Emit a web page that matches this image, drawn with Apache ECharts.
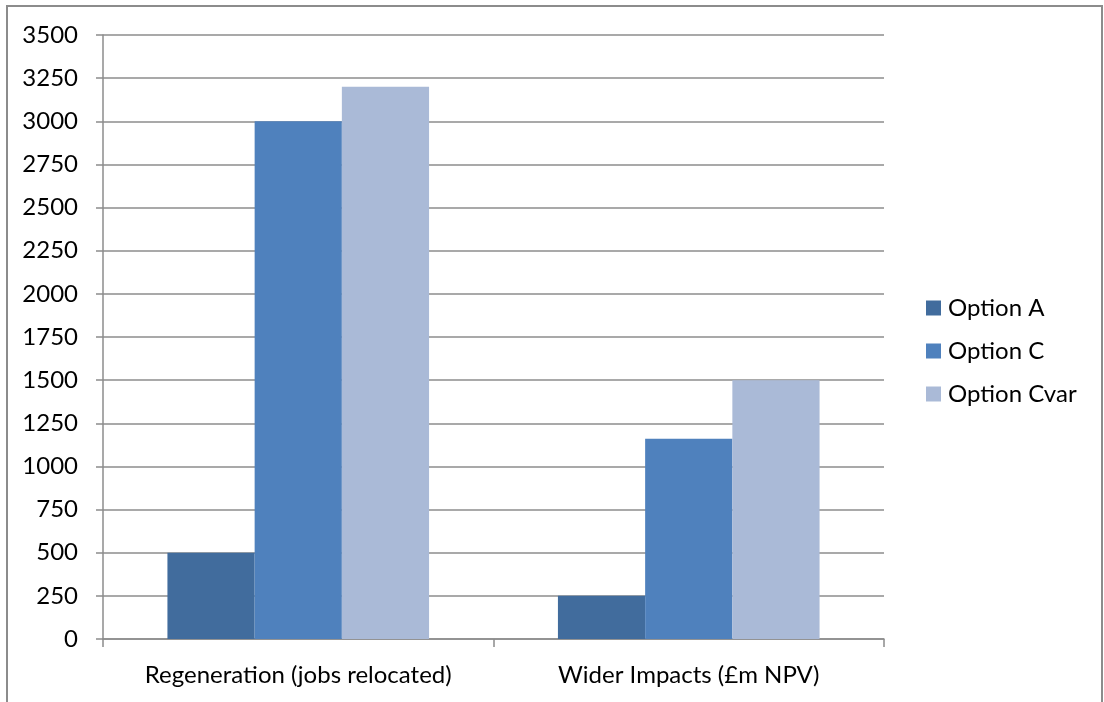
<!DOCTYPE html>
<html>
<head>
<meta charset="utf-8">
<script src="https://cdn.jsdelivr.net/npm/echarts@6/dist/echarts.min.js"></script>
<style>
  html, body { margin: 0; padding: 0; background: #fff; }
  #chart { width: 1104px; height: 702px; }
</style>
</head>
<body>
<div id="chart"></div>
<script>
// Categories and series values
const categories = ['Regeneration (jobs relocated)', 'Wider Impacts (£m NPV)'];
const seriesNames = ['Option A', 'Option C', 'Option Cvar'];
const optionA = [500, 250];
const optionC = [3000, 1160];
const optionCvar = [3200, 1500];
const seriesColors = ['#416C9D', '#4F81BD', '#AABAD7'];

const FONT = 'Lato, "Open Sans", sans-serif';
const FS = 24;
const chart = echarts.init(document.getElementById('chart'), null, { renderer: 'canvas' });

const values = [optionA, optionC, optionCvar];

chart.setOption({
  animation: false,
  backgroundColor: '#ffffff',
  textStyle: { fontFamily: FONT },
  graphic: [{
    type: 'rect',
    shape: { x: 7, y: 6, width: 1095, height: 720 },
    style: { fill: 'none', stroke: '#8c8c8c', lineWidth: 2 },
    silent: true
  }],
  grid: { left: 103, right: 220, top: 35, bottom: 63 },
  legend: {
    orient: 'vertical',
    left: 926,
    top: 296,
    padding: 0,
    itemWidth: 15,
    itemHeight: 15,
    itemGap: 19,
    icon: 'rect',
    textStyle: { fontSize: FS, color: '#000', fontFamily: FONT, padding: [0, 0, 0, 2] },
    data: seriesNames
  },
  xAxis: {
    type: 'category',
    data: categories,
    axisLine: { lineStyle: { color: '#8c8c8c', width: 1.5 } },
    axisTick: { show: true, length: 8, lineStyle: { color: '#8c8c8c', width: 1.5 } },
    axisLabel: { interval: 0, fontSize: FS, color: '#000', margin: 24, fontFamily: FONT },
    splitLine: { show: false }
  },
  yAxis: {
    type: 'value',
    min: 0,
    max: 3500,
    interval: 250,
    axisLine: { show: true, lineStyle: { color: '#8c8c8c', width: 1.5 } },
    axisTick: { show: true, length: 7, lineStyle: { color: '#8c8c8c', width: 1.5 } },
    axisLabel: { fontSize: FS, color: '#000', margin: 25, fontFamily: FONT, formatter: v => String(v) },
    splitLine: { show: true, lineStyle: { color: '#8c8c8c', width: 1.5 } }
  },
  series: seriesNames.map((name, i) => ({
    name: name,
    type: 'bar',
    data: values[i],
    barGap: '0%',
    barCategoryGap: '33%',
    itemStyle: { color: seriesColors[i] }
  }))
});
</script>
</body>
</html>
